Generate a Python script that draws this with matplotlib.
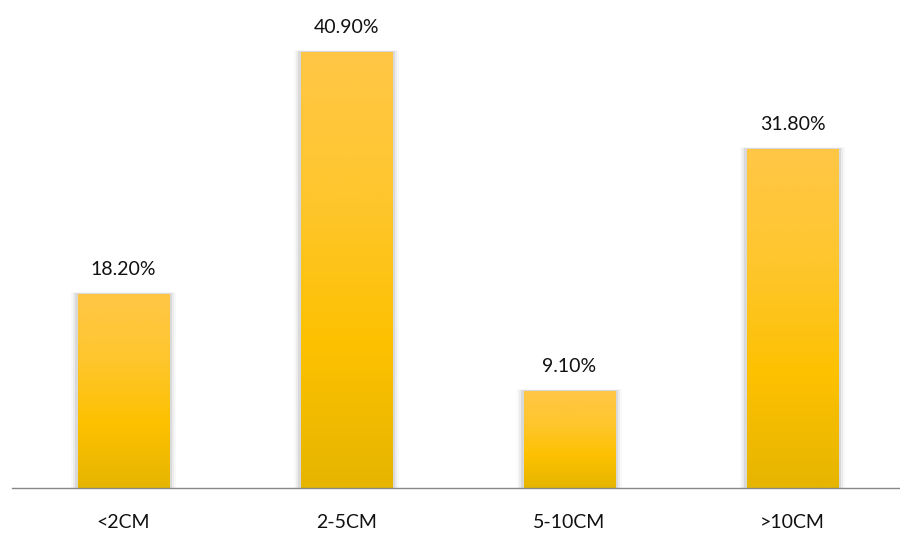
import matplotlib.pyplot as plt
import numpy as np
from matplotlib.colors import LinearSegmentedColormap
from matplotlib.patches import Rectangle

categories = ['<2CM', '2-5CM', '5-10CM', '>10CM']
values = [18.2, 40.9, 9.1, 31.8]
value_labels = ['18.20%', '40.90%', '9.10%', '31.80%']

plt.rcParams['font.family'] = ['Lato', 'DejaVu Sans']

fig = plt.figure(figsize=(9, 5.33), dpi=100)
ax = fig.add_axes([12 / 900, 45 / 533, 892 / 900, 488 / 533])

# yellow gradient, light at the top, darker toward the base
gold = LinearSegmentedColormap.from_list('gold', ['#e6b500', '#fdc100', '#ffc62e', '#ffc646'])

bar_width = 0.41
x = np.arange(len(categories))
bars = ax.bar(x, values, width=bar_width, color='none', zorder=3)

for rect, val, lab in zip(bars, values, value_labels):
    x0 = rect.get_x()
    w = rect.get_width()
    # soft grey shadow around the bar
    for pad, alpha in [(0.03, 0.05), (0.02, 0.09), (0.012, 0.16)]:
        ax.add_patch(Rectangle((x0 - pad, 0), w + 2 * pad, val + pad * 6,
                               facecolor='#7a7a7a', alpha=alpha, lw=0, zorder=2))
    grad = np.linspace(0, 1, 256).reshape(-1, 1)
    im = ax.imshow(grad, cmap=gold, origin='lower', aspect='auto',
                   extent=(x0, x0 + w, 0, val), zorder=3)
    im.set_clip_path(rect)
    ax.text(rect.get_x() + w / 2, val + 1.5, lab, ha='center', va='bottom',
            fontsize=14, color='#111111')

ax.set_xlim(-0.5, 3.5)
ax.set_ylim(0, 45.8)
ax.set_xticks(x)
ax.set_xticklabels(categories, fontsize=14, color='#111111')
ax.tick_params(axis='x', length=0, pad=19)
ax.set_yticks([])
for side in ['top', 'right', 'left']:
    ax.spines[side].set_visible(False)
ax.spines['bottom'].set_color('#888888')
ax.spines['bottom'].set_linewidth(1.0)
ax.spines['bottom'].set_zorder(4)

plt.savefig('out.png', dpi=100)
